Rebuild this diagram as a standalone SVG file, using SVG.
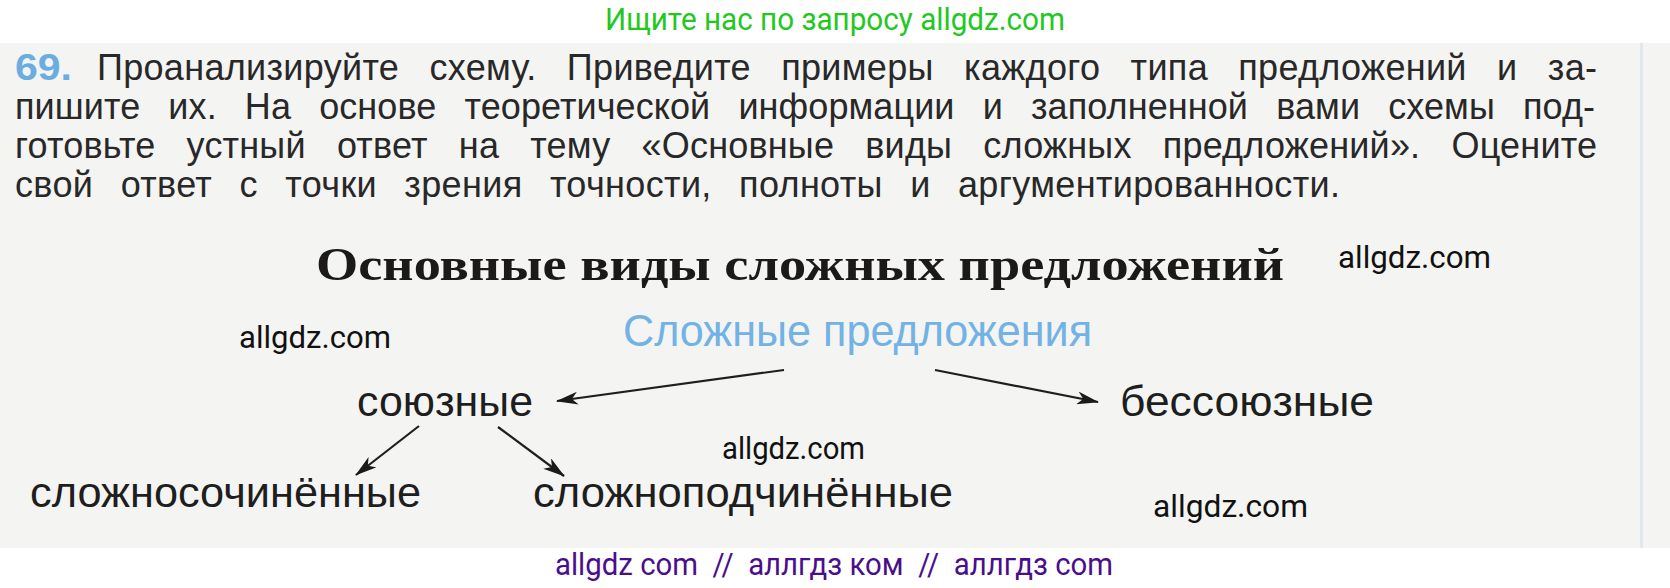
<svg xmlns="http://www.w3.org/2000/svg" width="1670" height="588" viewBox="0 0 1670 588">
  <defs>
    <marker id="ah" viewBox="0 0 22 13" refX="21" refY="6.5" markerWidth="22" markerHeight="13" markerUnits="userSpaceOnUse" orient="auto">
      <path d="M0,0 L22,6.5 L0,13 L6,6.5 Z" fill="#1a1a1a"/>
    </marker>
    <style>
      .body { font-family: "Liberation Sans", Arial, sans-serif; font-size: 36px; fill: #282828; }
      .num { font-family: "Liberation Sans", Arial, sans-serif; font-size: 36px; font-weight: bold; fill: #6aaee0; }
      .title { font-family: "Liberation Serif", "Times New Roman", serif; font-size: 46px; font-weight: bold; fill: #1c1a18; }
      .node { font-family: "Liberation Sans", Arial, sans-serif; font-size: 43px; fill: #1e1e1e; }
      .root { font-family: "Liberation Sans", Arial, sans-serif; font-size: 44px; fill: #72b2e4; }
      .wm { font-family: Roboto, "Liberation Sans", sans-serif; font-size: 31px; fill: #111111; }
      .green { font-family: Roboto, "Liberation Sans", sans-serif; font-size: 32px; fill: #22c81e; }
      .purple { font-family: Roboto, "Liberation Sans", sans-serif; font-size: 31px; fill: #4a0e8c; }
      .conn line { stroke: #1e1e1e; stroke-width: 2.2; marker-end: url(#ah); }
    </style>
  </defs>
  <rect x="0" y="0" width="1670" height="588" fill="#ffffff"/>
  <rect x="0" y="43" width="1670" height="505" fill="#f4f4f3"/>
  <rect x="1640" y="43" width="3" height="505" fill="#dfe7ef"/>

  <g id="header">
    <text class="green" x="835" y="30" text-anchor="middle" textLength="460" lengthAdjust="spacingAndGlyphs">Ищите нас по запросу allgdz.com</text>
  </g>

  <g id="task">
    <text class="num" x="15" y="80" textLength="57" lengthAdjust="spacingAndGlyphs">69.</text>
    <text class="body" x="97" y="80" word-spacing="20" textLength="1500" lengthAdjust="spacing">Проанализируйте схему. Приведите примеры каждого типа предложений и за-</text>
    <text class="body" x="15" y="119" word-spacing="18" textLength="1580" lengthAdjust="spacing">пишите их. На основе теоретической информации и заполненной вами схемы под-</text>
    <text class="body" x="15" y="158" word-spacing="21" textLength="1582" lengthAdjust="spacing">готовьте устный ответ на тему «Основные виды сложных предложений». Оцените</text>
    <text class="body" x="15" y="197" word-spacing="17" textLength="1325" lengthAdjust="spacing">свой ответ с точки зрения точности, полноты и аргументированности.</text>
  </g>

  <g id="title">
    <text class="title" x="316" y="280" textLength="968" lengthAdjust="spacingAndGlyphs">Основные виды сложных предложений</text>
  </g>

  <g id="node-root">
    <text class="root" x="623" y="346" textLength="469" lengthAdjust="spacingAndGlyphs">Сложные предложения</text>
  </g>
  <g id="node-soyuznye">
    <text class="node" x="357" y="416" textLength="176" lengthAdjust="spacingAndGlyphs">союзные</text>
  </g>
  <g id="node-bessoyuznye">
    <text class="node" x="1120" y="416" textLength="254" lengthAdjust="spacingAndGlyphs">бессоюзные</text>
  </g>
  <g id="node-slozhnosochinennye">
    <text class="node" x="30" y="507" textLength="391" lengthAdjust="spacingAndGlyphs">сложносочинённые</text>
  </g>
  <g id="node-slozhnopodchinennye">
    <text class="node" x="533" y="507" textLength="420" lengthAdjust="spacingAndGlyphs">сложноподчинённые</text>
  </g>

  <g id="connectors" class="conn">
    <line x1="784" y1="370" x2="557" y2="401"/>
    <line x1="935" y1="370" x2="1098" y2="402"/>
    <line x1="419" y1="426" x2="356" y2="475"/>
    <line x1="498" y1="427" x2="564" y2="476"/>
  </g>

  <g id="watermarks">
    <text class="wm" x="1338" y="268" textLength="153" lengthAdjust="spacingAndGlyphs">allgdz.com</text>
    <text class="wm" x="239" y="348" textLength="152" lengthAdjust="spacingAndGlyphs">allgdz.com</text>
    <text class="wm" x="722" y="459" textLength="143" lengthAdjust="spacingAndGlyphs">allgdz.com</text>
    <text class="wm" x="1153" y="517" textLength="155" lengthAdjust="spacingAndGlyphs">allgdz.com</text>
  </g>

  <g id="footer">
    <text class="purple" x="555" y="575" textLength="558" lengthAdjust="spacingAndGlyphs" xml:space="preserve">allgdz com  //  аллгдз ком  //  аллгдз com</text>
  </g>
</svg>
